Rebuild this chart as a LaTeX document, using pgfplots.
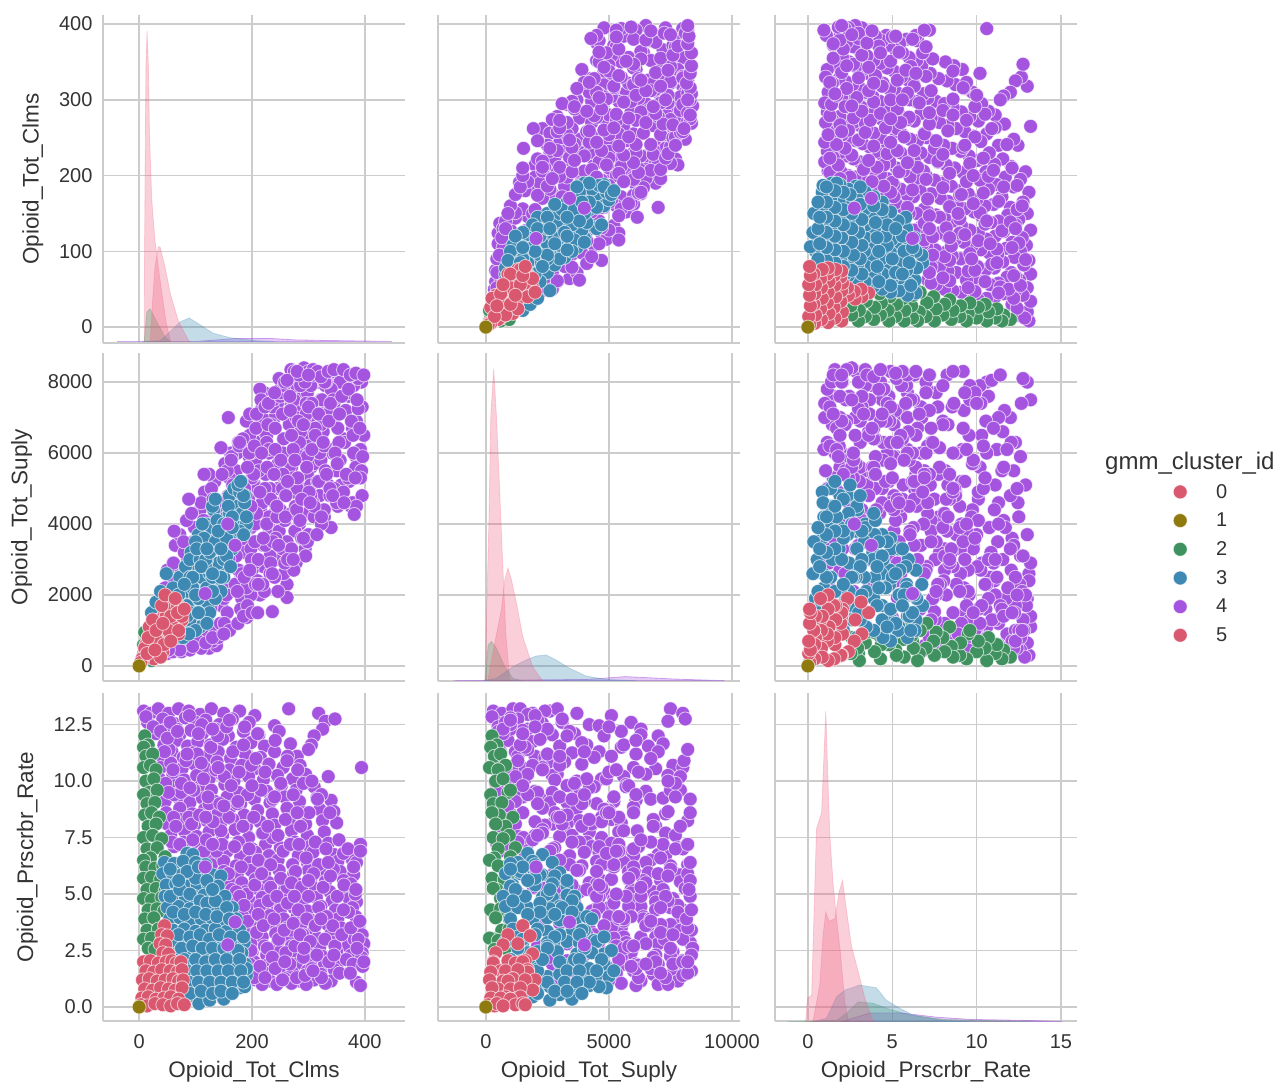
\documentclass[border=0pt]{standalone}
\usepackage{fontspec}
\setmainfont{Liberation Sans}
\usepackage{pgfplots}
\usepackage{pgfplotstable}
\pgfplotsset{compat=1.18}

\definecolor{cRed}{HTML}{D9586F}
\definecolor{cPink}{HTML}{EE5F80}
\definecolor{cOlive}{HTML}{8F7A10}
\definecolor{cGreen}{HTML}{3F9260}
\definecolor{cBlue}{HTML}{3D89B3}
\definecolor{cPurple}{HTML}{A554E0}
\definecolor{gridc}{HTML}{CCCCCC}
\definecolor{txt}{HTML}{333333}

% c = Opioid_Tot_Clms, s = Opioid_Tot_Suply, r = Opioid_Prscrbr_Rate
\pgfplotstableread[row sep=\\]{c s r\\
8 300 13.1\\ 20 650 13.0\\ 34 1100 13.2\\ 52 1900 13.0\\ 70 1400 13.2\\ 88 2600 13.1\\ 108 1700 12.95\\ 128 2900 13.2\\ 150 3700 13.0\\ 178 2400 13.1\\ 205 5100 12.9\\ 265 7500 13.2\\ 318 8000 13.0\\
15 450 12.6\\ 42 1300 12.75\\ 62 2300 12.55\\ 82 1000 12.8\\ 100 3100 12.6\\ 118 2100 12.7\\ 142 4200 12.5\\ 165 3100 12.75\\ 195 5900 12.6\\ 240 4600 12.45\\ 330 7400 12.65\\ 347 8100 12.75\\ 325 6300 12.3\\
30 900 12.1\\ 48 1700 12.3\\ 72 2700 12.05\\ 92 1500 12.25\\ 112 3600 12.1\\ 135 2500 12.3\\ 158 4800 12.0\\ 185 3400 12.2\\ 212 6300 12.05\\ 248 5500 12.2\\ 310 7000 12.0\\
44 1500 11.6\\ 66 900 11.8\\ 86 3000 11.55\\ 104 1900 11.75\\ 126 4100 11.6\\ 148 2200 11.85\\ 172 5500 11.5\\ 198 3900 11.7\\ 222 6600 11.55\\ 268 7200 11.65\\ 305 5600 11.6\\
40 2000 11.1\\ 58 1200 11.3\\ 78 2400 11.05\\ 96 3500 11.25\\ 120 1300 11.1\\ 140 4600 11.3\\ 162 2900 11.0\\ 188 6100 11.2\\ 215 4400 11.05\\ 240 7000 11.3\\ 280 5100 11.1\\
38 1100 10.6\\ 56 2500 10.8\\ 76 1600 10.55\\ 98 3900 10.75\\ 116 2300 10.6\\ 138 3200 10.85\\ 160 5300 10.5\\ 182 1900 10.7\\ 205 6900 10.55\\ 230 3900 10.75\\ 255 6000 10.6\\ 285 7600 10.7\\ 394 8000 10.6\\
36 1600 10.1\\ 60 2900 10.3\\ 80 1100 10.05\\ 102 2700 10.25\\ 124 4700 10.1\\ 146 1700 10.3\\ 168 3700 10.0\\ 194 5600 10.2\\ 220 2800 10.05\\ 245 7400 10.25\\ 272 4900 10.1\\ 295 6500 10.3\\ 335 7900 10.2\\
42 800 9.6\\ 64 3400 9.8\\ 84 2000 9.55\\ 108 4400 9.75\\ 128 1000 9.6\\ 152 5700 9.85\\ 176 2700 9.5\\ 200 4200 9.7\\ 226 6500 9.55\\ 252 3300 9.8\\ 278 7900 9.6\\ 310 5700 9.75\\
46 2200 9.1\\ 68 1300 9.3\\ 90 3300 9.05\\ 112 2200 9.25\\ 134 5200 9.1\\ 156 1500 9.3\\ 180 4500 9.0\\ 204 6700 9.2\\ 232 2600 9.05\\ 258 5200 9.3\\ 284 4000 9.1\\ 315 7200 9.25\\ 340 6100 9.15\\
48 1500 8.6\\ 72 3700 8.8\\ 94 1000 8.55\\ 116 4900 8.75\\ 140 2800 8.6\\ 162 6000 8.85\\ 186 3200 8.5\\ 210 5000 8.7\\ 236 7300 8.55\\ 262 2300 8.8\\ 290 6000 8.6\\ 320 4800 8.75\\ 345 7400 8.65\\
50 2700 8.1\\ 74 700 8.3\\ 98 2400 8.05\\ 120 3800 8.25\\ 144 1200 8.1\\ 166 5100 8.3\\ 190 6900 8.0\\ 214 2000 8.2\\ 240 4300 8.05\\ 266 6800 8.3\\ 294 3300 8.1\\ 325 8200 8.25\\ 350 5500 8.15\\
56 2000 7.6\\ 80 3200 7.8\\ 102 1300 7.55\\ 124 5400 7.75\\ 148 3500 7.6\\ 170 2300 7.85\\ 194 4700 7.5\\ 218 7300 7.7\\ 244 3000 7.55\\ 270 5600 7.8\\ 298 7700 7.6\\ 328 4200 7.75\\
62 1000 7.1\\ 84 4100 7.3\\ 106 2800 7.05\\ 128 1700 7.25\\ 152 4300 7.1\\ 176 6300 7.3\\ 200 2700 7.0\\ 224 5400 7.2\\ 250 7800 7.05\\ 276 3800 7.3\\ 302 6200 7.1\\ 335 5100 7.25\\ 392 8200 7.2\\
110 4600 6.8\\ 132 3400 6.7\\ 156 5500 6.9\\ 180 1600 6.65\\ 206 4000 6.85\\ 230 6000 6.7\\ 256 2600 6.9\\ 282 7300 6.7\\ 308 4600 6.85\\ 345 7000 6.75\\ 378 6700 6.5\\
128 5000 6.3\\ 150 1900 6.45\\ 172 3900 6.25\\ 196 6500 6.4\\ 220 3400 6.3\\ 246 5000 6.5\\ 272 8200 6.3\\ 298 5400 6.4\\ 322 7500 6.25\\ 352 4500 6.45\\ 385 5600 6.4\\
150 2800 6.0\\ 174 6000 5.9\\ 198 2000 6.05\\ 222 7700 5.9\\ 248 3800 6.05\\ 274 6100 5.9\\ 300 3700 6.05\\ 326 6600 5.95\\ 356 5800 6.0\\ 380 7900 5.85\\
158 4700 5.6\\ 182 2600 5.5\\ 206 5800 5.65\\ 230 4200 5.5\\ 254 7100 5.6\\ 278 2900 5.5\\ 304 5100 5.65\\ 330 7900 5.55\\ 362 6400 5.6\\ 375 4500 5.45\\
164 5900 5.2\\ 188 3800 5.1\\ 210 2400 5.25\\ 234 6800 5.1\\ 258 4100 5.2\\ 284 5900 5.05\\ 310 8100 5.25\\ 338 4800 5.1\\ 366 7200 5.2\\
172 3100 4.8\\ 196 7100 4.7\\ 218 4600 4.85\\ 240 2500 4.7\\ 264 7600 4.8\\ 288 3600 4.65\\ 314 6900 4.85\\ 342 6000 4.7\\ 372 5200 4.8\\ 385 6900 4.65\\
178 5000 4.4\\ 202 3000 4.3\\ 226 6300 4.45\\ 250 4400 4.3\\ 274 7500 4.4\\ 298 4300 4.25\\ 322 5800 4.45\\ 348 8000 4.3\\ 378 4600 4.4\\
184 6400 4.0\\ 208 4300 3.9\\ 232 3100 4.05\\ 256 6400 3.9\\ 280 5000 4.0\\ 304 7900 3.85\\ 328 4400 4.05\\ 352 6700 3.9\\ 384 5900 4.0\\
190 2200 3.6\\ 212 5500 3.5\\ 238 7500 3.65\\ 262 3500 3.5\\ 286 6600 3.6\\ 310 4200 3.45\\ 334 7100 3.65\\ 358 5100 3.5\\ 388 8100 3.6\\
194 4400 3.2\\ 218 6900 3.1\\ 242 3600 3.25\\ 266 5600 3.1\\ 290 8100 3.2\\ 316 5200 3.05\\ 340 3900 3.25\\ 364 6300 3.1\\ 395 7300 3.2\\
198 3300 2.8\\ 222 2100 2.7\\ 246 5700 2.85\\ 270 4300 2.7\\ 294 7000 2.8\\ 320 6000 2.65\\ 344 8300 2.85\\ 370 5300 2.7\\ 398 6500 2.8\\
200 5300 2.4\\ 226 4000 2.3\\ 250 7600 2.45\\ 274 2700 2.3\\ 298 5900 2.4\\ 324 7500 2.25\\ 350 4600 2.45\\ 376 6900 2.3\\ 395 4800 2.4\\
204 2900 2.0\\ 230 6100 1.9\\ 254 3300 2.05\\ 278 7000 1.9\\ 304 4800 2.0\\ 328 6200 1.85\\ 356 8000 2.05\\ 384 5600 1.9\\
198 6000 1.6\\ 224 3400 1.5\\ 248 8100 1.65\\ 272 5300 1.5\\ 298 3500 1.6\\ 322 6800 1.45\\ 346 5000 1.65\\ 372 7600 1.5\\
206 2300 1.2\\ 232 5000 1.15\\ 258 2900 1.25\\ 284 6300 1.15\\ 310 4500 1.2\\ 340 7800 1.15\\ 385 4500 1.1\\
218 7000 1.0\\ 244 4200 1.0\\ 270 3300 1.05\\ 296 7400 1.0\\ 330 5500 1.05\\ 392 6100 0.95\\
124 500 9.0\\ 137 570 6.9\\ 191 1370 5.0\\ 236 1530 7.5\\ 262 1930 5.3\\ 295 3100 8.1\\ 381 4270 3.0\\ 394 5500 2.2\\ 388 7250 3.0\\
62 3800 9.4\\ 88 4700 8.4\\ 115 5400 6.9\\ 145 6150 7.8\\ 158 7000 5.9\\ 214 7800 4.5\\ 269 8350 3.4\\
47 1000 9.9\\ 53 1700 11.4\\ 61 2900 8.4\\ 67 1000 12.3\\ 74 2100 9.5\\ 79 3500 7.3\\ 83 1300 10.9\\ 89 2000 12.9\\ 93 4300 8.1\\ 97 1300 9.6\\ 58 1300 7.3\\
103 2500 11.2\\ 107 3300 8.5\\ 111 1000 12.5\\ 114 4100 10.1\\ 119 1900 7.4\\ 122 3000 9.3\\ 127 1600 11.5\\ 131 4700 8.2\\ 136 2300 10.5\\ 139 3300 12.0\\ 143 3900 9.0\\ 147 5400 7.2\\ 151 1200 10.2\\ 155 2000 12.4\\ 159 3000 8.4\\ 163 5800 9.8\\
166 4000 11.3\\ 169 4600 7.1\\ 174 2100 9.0\\ 177 6200 10.4\\ 181 5200 6.2\\ 184 3900 8.0\\ 187 5000 12.4\\ 192 1700 9.4\\ 195 6000 7.0\\ 199 3000 10.7\\ 203 5400 8.4\\ 207 6700 11.0\\ 211 3000 6.5\\ 216 7500 9.6\\ 219 2300 7.7\\
223 5000 10.4\\ 228 6800 8.0\\ 233 4700 6.3\\ 237 3500 9.2\\ 241 6100 11.8\\ 246 2100 7.6\\ 251 7700 9.9\\ 255 5400 6.9\\ 259 4200 8.3\\ 263 3000 11.1\\ 268 7200 7.2\\ 273 6100 9.4\\ 277 4500 6.0\\ 281 5300 10.5\\ 286 7900 8.0\\ 291 3600 9.9\\ 296 7100 6.6\\
301 4900 8.6\\ 306 7400 10.0\\ 312 6700 7.3\\ 318 5200 6.3\\ 323 4000 9.4\\ 331 8000 7.0\\ 338 5000 8.6\\ 344 7500 6.1\\ 354 6300 7.4\\ 362 4900 6.8\\ 370 7700 7.0\\ 380 6000 6.2\\ 392 5300 6.9\\
172 4400 5.1\\ 178 6300 4.9\\ 186 2500 4.5\\ 192 5600 3.8\\ 198 4500 2.5\\ 204 6200 1.3\\ 196 2700 1.9\\
205 3500 5.4\\ 208 7100 3.3\\ 211 2300 4.1\\ 214 4900 1.8\\ 217 6000 5.9\\ 220 3600 3.6\\ 223 7300 1.3\\ 227 5600 2.6\\ 229 7400 4.7\\ 233 2900 5.3\\ 236 2600 2.2\\ 239 5400 3.9\\ 241 6700 1.7\\ 244 4500 4.9\\ 247 3400 3.0\\ 251 5800 5.7\\ 254 5000 1.2\\ 257 7900 3.4\\ 260 4800 2.4\\
263 5200 4.6\\ 267 7600 1.9\\ 270 6500 5.5\\ 273 3000 3.7\\ 276 5800 2.7\\ 279 4400 1.3\\ 282 6900 4.3\\ 285 4100 3.2\\ 288 4700 5.3\\ 291 6800 2.2\\ 294 8000 1.4\\ 297 5600 3.9\\ 300 7300 4.9\\ 303 4600 2.9\\ 306 6100 1.7\\ 309 8200 5.9\\ 312 6500 3.6\\ 315 3700 2.3\\ 318 7100 4.4\\
323 4200 1.3\\ 326 6300 5.3\\ 329 8000 3.0\\ 332 5400 4.0\\ 336 6900 2.0\\ 339 7400 5.8\\ 343 4800 3.6\\ 347 6000 2.7\\ 351 5700 4.9\\ 355 7100 1.5\\ 359 7600 3.2\\ 363 4600 5.4\\ 367 5400 2.1\\ 371 7800 4.2\\ 375 8200 3.5\\ 379 6500 1.9\\ 383 5300 5.0\\ 386 7500 2.6\\ 391 6700 3.8\\ 396 5900 1.8\\
258 8000 2.0\\ 275 8300 4.9\\ 283 8200 7.2\\ 292 8400 2.6\\ 300 8300 5.6\\ 308 8350 1.6\\ 316 8300 9.2\\ 322 8150 3.9\\ 335 8300 6.4\\ 345 8350 2.3\\ 362 8350 4.3\\ 374 8200 1.5\\ 384 8250 5.2\\ 398 8200 2.0\\ 240 7700 9.3\\ 262 8050 10.9\\ 280 8300 8.6\\ 300 8200 11.4\\
12 250 12.85\\ 25 500 12.4\\ 38 700 12.2\\ 50 350 11.9\\ 55 800 12.6\\ 68 500 12.2\\ 45 600 11.3\\ 60 400 10.5\\ 85 600 11.2\\ 75 400 9.9\\ 90 450 9.7\\ 110 500 10.8\\ 105 700 12.1\\ 65 600 8.0\\ 95 550 7.4\\ 72 450 7.2\\ 52 450 9.5\\ 130 700 12.3\\ 118 650 8.4\\ 140 800 10.6\\ 160 1000 12.7\\ 175 1200 9.1\\ 185 1400 11.6\\ 200 1500 9.8\\ 210 1500 12.1\\ 130 800 7.2\\ 150 900 8.9\\
}\tpurple

\pgfplotstableread[row sep=\\]{c s r\\
157 4000 2.75\\ 170 3400 3.76\\ 117 2040 6.2\\
}\tpurpletop

\pgfplotstableread[row sep=\\]{c s r\\
10 250 12.0\\ 16 450 11.6\\ 8 200 11.5\\ 12 350 11.1\\ 24 600 11.2\\ 8 150 10.6\\ 20 800 10.7\\ 30 500 10.5\\ 12 400 10.0\\ 26 700 10.1\\
18 900 9.5\\ 8 200 9.4\\ 32 1000 9.6\\ 14 300 9.0\\ 28 650 9.05\\ 10 550 8.5\\ 22 250 8.6\\ 36 1100 8.4\\ 16 800 8.0\\ 30 400 8.1\\
8 300 7.5\\ 24 950 7.6\\ 40 700 7.45\\ 14 500 7.0\\ 32 1200 7.05\\ 20 350 6.6\\ 46 1000 6.65\\ 8 150 6.5\\ 12 700 6.2\\ 28 850 6.15\\
42 500 6.25\\ 52 1150 6.3\\ 8 250 5.7\\ 22 1050 5.75\\ 38 750 5.65\\ 14 450 5.2\\ 30 300 5.25\\ 46 950 5.15\\ 8 600 4.8\\ 22 750 4.75\\
40 1100 4.85\\ 16 200 4.3\\ 32 600 4.35\\ 44 850 4.25\\ 10 950 3.9\\ 26 400 3.95\\ 14 650 3.4\\ 34 950 3.45\\ 8 350 3.0\\ 22 150 3.05\\
40 500 2.95\\ 16 800 2.6\\ 28 350 2.55\\
}\tgreen

\pgfplotstableread[row sep=\\]{c s r\\
85 1700 6.8\\ 95 2300 6.75\\ 45 1300 6.4\\ 62 1000 6.35\\ 78 1900 6.45\\ 100 2700 6.4\\ 118 2000 6.3\\
42 800 5.9\\ 58 1500 5.95\\ 75 2300 5.85\\ 92 1400 5.9\\ 110 3000 5.95\\ 130 2200 5.85\\ 145 2800 5.8\\
48 1100 5.4\\ 65 2000 5.45\\ 85 1000 5.35\\ 103 2000 5.4\\ 122 2700 5.45\\ 140 3300 5.35\\
46 700 4.9\\ 62 1300 4.95\\ 82 2700 4.85\\ 98 1600 4.9\\ 115 3300 4.95\\ 132 2300 4.85\\ 152 3600 4.9\\
50 1700 4.4\\ 70 800 4.45\\ 90 2200 4.35\\ 108 1300 4.4\\ 125 3000 4.45\\ 145 2600 4.35\\ 165 3700 4.4\\
54 1000 3.9\\ 72 2500 3.95\\ 92 3200 3.85\\ 110 1900 3.9\\ 128 3700 3.95\\ 150 3000 3.85\\ 172 4200 3.9\\
60 1500 3.4\\ 80 1100 3.45\\ 100 2500 3.35\\ 118 4000 3.4\\ 135 2100 3.45\\ 155 3500 3.35\\ 178 3900 3.4\\
62 800 2.9\\ 82 2800 2.95\\ 98 1500 2.85\\ 115 3300 2.9\\ 132 4400 2.95\\ 150 2500 2.85\\ 170 4500 2.9\\ 186 3800 2.85\\
68 1400 2.4\\ 88 2100 2.45\\ 105 3700 2.35\\ 122 1700 2.4\\ 140 2900 2.45\\ 160 4800 2.35\\ 182 4300 2.4\\
70 900 1.9\\ 90 3000 1.95\\ 108 1300 1.85\\ 128 3900 1.9\\ 145 2100 1.95\\ 165 3300 1.85\\ 188 4800 1.9\\
75 1600 1.4\\ 92 1000 1.45\\ 110 2500 1.35\\ 130 4500 1.4\\ 150 3000 1.45\\ 168 5000 1.35\\ 190 4000 1.4\\
78 800 0.9\\ 95 2200 0.95\\ 115 3600 0.85\\ 135 1900 0.9\\ 155 4200 0.95\\ 178 4900 0.85\\
80 1200 0.5\\ 100 1900 0.45\\ 120 3000 0.55\\
22 1500 1.1\\ 30 1800 0.8\\ 38 2100 1.6\\ 48 2600 0.9\\ 35 1300 2.0\\ 70 1800 2.2\\
106 1500 0.15\\ 125 2600 0.3\\ 150 3500 0.35\\ 187 4600 0.9\\ 190 4200 1.7\\
55 1600 4.9\\ 72 1200 5.2\\ 90 2500 5.0\\ 108 1100 4.7\\ 120 2200 4.6\\ 135 3500 4.7\\ 155 3100 4.4\\ 60 2200 4.2\\ 80 1700 4.1\\ 100 3500 4.2\\ 118 2800 4.1\\ 138 4100 4.0\\ 160 4300 3.9\\
70 2000 3.2\\ 90 1300 3.1\\ 108 3000 3.2\\ 125 1500 3.0\\ 142 3800 3.2\\ 162 2800 3.1\\ 185 4800 3.1\\ 75 1300 2.6\\ 95 2500 2.7\\ 112 4000 2.6\\ 130 2500 2.6\\ 150 4000 2.6\\ 175 5100 2.5\\
80 2300 2.1\\ 100 1000 2.1\\ 118 3000 2.0\\ 135 4700 2.1\\ 155 3600 2.1\\ 178 3800 2.1\\ 85 1700 1.6\\ 102 3300 1.6\\ 120 1200 1.6\\ 140 3800 1.6\\ 158 4500 1.6\\ 180 5200 1.6\\
88 900 1.1\\ 105 1900 1.1\\ 125 3200 1.1\\ 145 2500 1.1\\ 165 4200 1.1\\ 185 3700 1.1\\ 90 1500 0.6\\ 110 2800 0.7\\ 130 2100 0.6\\ 145 3300 0.7\\ 165 3900 0.6\\
100 2000 5.7\\ 120 3300 5.6\\ 85 1400 6.0\\ 105 1500 6.2\\ 70 1700 5.6\\ 55 1000 6.1\\ 130 2600 5.2\\
}\tblue

\pgfplotstableread[row sep=\\]{c s r\\
45 1500 3.6\\ 40 900 3.2\\ 50 1800 3.15\\ 37 1300 2.8\\ 47 700 2.75\\ 42 400 2.4\\ 52 1900 2.35\\
8 300 2.0\\ 20 900 2.05\\ 34 300 1.95\\ 48 1400 2.0\\ 58 1600 2.05\\ 66 1200 1.95\\ 74 1500 2.0\\
12 600 1.6\\ 26 200 1.55\\ 40 1700 1.65\\ 55 800 1.6\\ 68 1700 1.55\\ 76 1300 1.65\\
6 150 1.2\\ 18 1100 1.25\\ 32 700 1.15\\ 46 2000 1.2\\ 60 1100 1.25\\ 70 900 1.15\\ 78 1600 1.2\\
10 500 0.8\\ 24 1300 0.75\\ 38 250 0.85\\ 52 1000 0.8\\ 64 1900 0.75\\ 76 1400 0.85\\
5 200 0.4\\ 16 800 0.45\\ 30 1000 0.35\\ 44 600 0.4\\ 56 1400 0.45\\ 70 1000 0.35\\
3 100 0.1\\ 14 350 0.05\\ 28 450 0.15\\ 42 1200 0.1\\ 56 700 0.05\\ 68 1500 0.15\\ 80 1600 0.1\\
}\tred

\pgfplotstableread[row sep=\\]{c s r\\
0 0 0\\
}\tolive

\pgfplotsset{
  pair/.style={
    scale only axis, width=302pt, height=328pt,
    axis lines*=left,
    axis line style={gridc, line width=1.5pt},
    grid=major,
    major grid style={gridc, line width=1.4pt},
    major tick length=0pt,
    tick align=outside,
    scaled ticks=false,
    ticklabel style={font=\fontsize{20}{22}\selectfont, text=txt},
    label style={font=\fontsize{22.5}{24}\selectfont, text=txt},
    xtick pos=bottom, ytick pos=left,
    x tick label style={yshift=-10pt},
    y tick label style={xshift=-7pt},
    xlabel shift=6pt, ylabel shift=9pt,
  },
  colC/.style={xmin=-64, xmax=471, xtick={0,200,400}},
  colS/.style={xmin=-1943, xmax=10324, xtick={0,5000,10000}},
  colR/.style={xmin=-1.95, xmax=15.95, xtick={0,5,10,15}},
  rowC/.style={ymin=-21, ymax=412, ytick={0,100,200,300,400}},
  rowS/.style={ymin=-424, ymax=8820, ytick={0,2000,4000,6000,8000}},
  rowR/.style={ymin=-0.62, ymax=13.9, ytick={0,2.5,5,7.5,10,12.5}},
  nox/.style={xticklabels={}},
  noy/.style={yticklabels={}},
  pts/.style={only marks, mark=*, mark size=7pt,
    mark options={draw=white, draw opacity=.65, line width=.8pt, fill=#1}},
  kde/.style={draw=#1, draw opacity=.25, fill=#1, fill opacity=.3, line width=.8pt},
}

\newcommand{\pairpts}[2]{%
  \addplot[pts=cPurple] table[x=#1,y=#2]{\tpurple};
  \addplot[pts=cGreen] table[x=#1,y=#2]{\tgreen};
  \addplot[pts=cBlue] table[x=#1,y=#2]{\tblue};
  \addplot[pts=cPurple] table[x=#1,y=#2]{\tpurpletop};
  \addplot[pts=cRed] table[x=#1,y=#2]{\tred};
  \addplot[pts=cOlive] table[x=#1,y=#2]{\tolive};
}

\begin{document}
\begin{tikzpicture}
\path[use as bounding box] (0,0) rectangle (1279pt,1082pt);

% row 1
\begin{axis}[pair, colC, rowC, nox, at={(103pt,739pt)}, anchor=south west,
  yticklabels={0,100,200,300,400}, ylabel={Opioid\_Tot\_Clms}]
\addplot[kde=cPurple, draw opacity=.5] coordinates {(-39,-19) (100,-19) (173,-15) (232,-15) (279,-17) (360,-18) (448,-19)} -- cycle;
\addplot[kde=cPink] coordinates {(9,-19) (9.4,79) (11,250) (12,343) (14,391) (16.5,343) (18.3,256) (22.4,168) (28,115) (34,79) (42,36) (48,5) (56,-19)} -- cycle;
\addplot[kde=cGreen] coordinates {(9,-19) (13.6,20) (19.5,24) (25,16) (34,3) (46,-13) (55,-19)} -- cycle;
\addplot[kde=cBlue] coordinates {(5,-19) (37,-18) (55,-6) (72.6,7) (89,12) (108,3) (131,-8) (161,-14) (208,-18) (240,-19)} -- cycle;
\addplot[kde=cPink] coordinates {(19.5,-19) (24,36) (28,79) (34,106) (37,106) (46,79) (55,45) (69,9) (87,-17) (90,-19)} -- cycle;
\end{axis}

\begin{axis}[pair, colS, rowC, nox, noy, at={(438pt,739pt)}, anchor=south west]
\pairpts{s}{c}
\end{axis}

\begin{axis}[pair, colR, rowC, nox, noy, at={(775pt,739pt)}, anchor=south west]
\pairpts{r}{c}
\end{axis}

% row 2
\begin{axis}[pair, colC, rowS, nox, at={(103pt,401pt)}, anchor=south west,
  yticklabels={0,2000,4000,6000,8000}, ylabel={Opioid\_Tot\_Suply}]
\pairpts{c}{s}
\end{axis}

\begin{axis}[pair, colS, rowS, nox, noy, at={(438pt,401pt)}, anchor=south west]
\addplot[kde=cPurple, draw opacity=.5] coordinates {(-1300,-415) (4100,-380) (5670,-300) (7690,-370) (9700,-415)} -- cycle;
\addplot[kde=cPink] coordinates {(-40,-415) (130,4220) (200,7050) (320,8370) (430,7050) (565,4880) (690,2800) (810,930) (970,-400) (1000,-415)} -- cycle;
\addplot[kde=cGreen] coordinates {(-20,-415) (90,590) (230,690) (430,500) (770,-20) (1100,-350) (1450,-415)} -- cycle;
\addplot[kde=cBlue] coordinates {(-100,-415) (430,-350) (1100,-20) (1640,170) (2040,280) (2450,310) (2850,170) (3390,-60) (4060,-280) (4870,-380) (6100,-415)} -- cycle;
\addplot[kde=cPink] coordinates {(80,-415) (360,640) (630,1580) (770,2430) (900,2760) (1040,2430) (1240,1780) (1500,830) (1900,-20) (2300,-415)} -- cycle;
\end{axis}

\begin{axis}[pair, colR, rowS, nox, noy, at={(775pt,401pt)}, anchor=south west]
\pairpts{r}{s}
\end{axis}

% row 3
\begin{axis}[pair, colC, rowR, at={(103pt,61pt)}, anchor=south west,
  xticklabels={0,200,400}, xlabel={Opioid\_Tot\_Clms},
  yticklabels={0.0,2.5,5.0,7.5,10.0,12.5}, ylabel={Opioid\_Prscrbr\_Rate}]
\pairpts{c}{r}
\end{axis}

\begin{axis}[pair, colS, rowR, noy, at={(438pt,61pt)}, anchor=south west,
  xticklabels={0,5000,10000}, xlabel={Opioid\_Tot\_Suply}]
\pairpts{s}{r}
\end{axis}

\begin{axis}[pair, colR, rowR, noy, at={(775pt,61pt)}, anchor=south west,
  xticklabels={0,5,10,15}, xlabel={Opioid\_Prscrbr\_Rate}]
\addplot[kde=cPurple, draw opacity=.5] coordinates {(2,-.65) (3.66,-.27) (5.6,-.27) (7.6,-.45) (9.6,-.55) (13.3,-.6) (15.1,-.65)} -- cycle;
\addplot[kde=cPink] coordinates {(-.14,-.65) (-.02,.38) (.22,.53) (.51,7.9) (.81,8.6) (1.06,13.1) (1.2,9.8) (1.3,7.6) (1.5,5.4) (1.7,3.9) (1.93,2.4) (2.19,.2) (2.4,-.6) (2.45,-.65)} -- cycle;
\addplot[kde=cGreen] coordinates {(-1.2,-.65) (1.7,-.6) (2.3,-.27) (2.97,.23) (3.85,.17) (4.65,-.05) (6,-.35) (8,-.55) (13.3,-.65)} -- cycle;
\addplot[kde=cBlue] coordinates {(.3,-.65) (1.1,-.5) (1.7,.45) (2.2,.75) (3.07,.97) (4.06,.85) (4.65,.3) (5.43,-.05) (6.2,-.35) (8,-.6) (9.6,-.65)} -- cycle;
\addplot[kde=cPink] coordinates {(.3,-.65) (.7,.97) (.9,3.2) (1.06,4.2) (1.25,3.8) (1.6,3.9) (1.85,5.1) (2.05,5.6) (2.25,4.5) (2.58,2.7) (2.97,1.6) (3.37,.4) (3.85,-.6) (3.9,-.65)} -- cycle;
\end{axis}

% legend
\node[anchor=base west, text=txt, font=\fontsize{24}{26}\selectfont, inner sep=0pt] at (1105pt,612pt) {gmm\_cluster\_id};
\begin{axis}[hide axis, scale only axis, width=100pt, height=190pt, at={(1173pt,410pt)}, anchor=south west,
  xmin=0, xmax=1, ymin=0, ymax=1,
  legend style={at={(0,1)}, anchor=north west, draw=none, fill=none, inner sep=0pt,
    font=\fontsize{20}{22}\selectfont, text=txt,
    row sep=9.3pt},
  legend cell align=left]
\addlegendimage{pts=cRed} \addlegendentry{\hspace*{27pt}0}
\addlegendimage{pts=cOlive} \addlegendentry{\hspace*{27pt}1}
\addlegendimage{pts=cGreen} \addlegendentry{\hspace*{27pt}2}
\addlegendimage{pts=cBlue} \addlegendentry{\hspace*{27pt}3}
\addlegendimage{pts=cPurple} \addlegendentry{\hspace*{27pt}4}
\addlegendimage{pts=cRed} \addlegendentry{\hspace*{27pt}5}
\end{axis}
\end{tikzpicture}
\end{document}
